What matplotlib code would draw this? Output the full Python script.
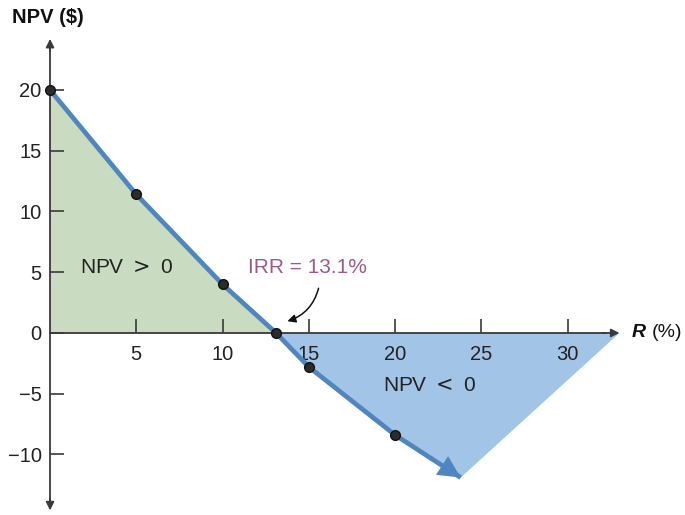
import matplotlib.pyplot as plt
from matplotlib.patches import Polygon

plt.rcParams['font.family'] = ['Liberation Sans', 'DejaVu Sans']

# NPV profile
rates = [0, 5, 10, 13.1, 15, 20]
npv = [20, 11.4, 4.0, 0, -2.8, -8.4]
curve_end = (23.8, -11.9)    # where the blue arrow stops
irr = 13.1

x_ticks = [5, 10, 15, 20, 25, 30]
y_ticks = [-10, -5, 0, 5, 10, 15, 20]
x_axis_end = 33.0
y_axis_top = 24.2
y_axis_bottom = -14.6

line_col = '#4f86bf'
green_fill = '#c9dcc2'
blue_fill = '#a2c4e6'
axis_col = '#3a3a3a'

fig = plt.figure(figsize=(6.85, 5.15), dpi=100)
ax = fig.add_axes([0, 0, 1, 1])
ax.set_xlim(-2.9, 36.8)
ax.set_ylim(-14.98, 27.4)

# shaded regions
pos = [(0, 0)] + [(r, v) for r, v in zip(rates, npv) if r <= irr]
neg = [(r, v) for r, v in zip(rates, npv) if r >= irr] + [curve_end, (x_axis_end, 0)]
ax.add_patch(Polygon(pos, closed=True, fc=green_fill, ec='none', zorder=1))
ax.add_patch(Polygon(neg, closed=True, fc=blue_fill, ec='none', zorder=1))

# axes through the origin
for side in ['top', 'right']:
    ax.spines[side].set_visible(False)
ax.spines['left'].set_position(('data', 0))
ax.spines['bottom'].set_position(('data', 0))
ax.spines['left'].set_bounds(y_axis_bottom + 0.8, y_axis_top - 0.8)
ax.spines['bottom'].set_bounds(0, x_axis_end - 0.8)
for side in ['left', 'bottom']:
    ax.spines[side].set_color(axis_col)
    ax.spines[side].set_linewidth(1.3)
    ax.spines[side].set_zorder(2)

ax.set_xticks(x_ticks)
ax.set_yticks(y_ticks)
ax.tick_params(axis='x', direction='in', length=10, width=1.2, color=axis_col,
               pad=9, labelsize=14.5, labelcolor='#222222')
ax.tick_params(axis='y', direction='in', length=10, width=1.2, color=axis_col,
               pad=6, labelsize=14.5, labelcolor='#222222')

arrow_kw = dict(arrowstyle='-|>', color=axis_col, lw=1.3, mutation_scale=12,
                shrinkA=0, shrinkB=0)
ax.annotate('', xy=(0, y_axis_top), xytext=(0, y_axis_top - 1), arrowprops=arrow_kw)
ax.annotate('', xy=(0, y_axis_bottom), xytext=(0, y_axis_bottom + 1), arrowprops=arrow_kw)
ax.annotate('', xy=(x_axis_end, 0), xytext=(x_axis_end - 1, 0), arrowprops=arrow_kw)

# NPV curve
ax.plot(rates + [curve_end[0]], npv + [curve_end[1]], color=line_col, lw=3.4,
        solid_capstyle='butt', zorder=3)
ax.annotate('', xy=curve_end, xytext=(rates[-1], npv[-1]),
            arrowprops=dict(arrowstyle='-|>', color=line_col, lw=0,
                            mutation_scale=40, shrinkA=0, shrinkB=0), zorder=3)
ax.plot(rates, npv, 'o', ms=7, mfc='#2b2b2b', mec='#111111', zorder=4)

# labels
ax.text(-2.2, 26.0, 'NPV ($)', fontsize=14.5, fontweight='bold',
        ha='left', va='center', color='#111111')
ax.text(x_axis_end + 0.7, 0, 'R', fontsize=14, fontweight='bold', style='italic',
        ha='left', va='center', color='#111111')
ax.text(x_axis_end + 1.9, 0, '(%)', fontsize=14, ha='left', va='center', color='#111111')
ax.text(4.45, 5.4, 'NPV $>$ 0', fontsize=15, ha='center', va='center', color='#222222')
ax.text(22.0, -4.3, 'NPV $<$ 0', fontsize=15, ha='center', va='center', color='#222222')
ax.text(14.9, 5.4, 'IRR = 13.1%', fontsize=15, ha='center', va='center', color='#9a5a8c')
ax.annotate('', xy=(irr + 0.5, 0.9), xytext=(15.6, 3.9),
            arrowprops=dict(arrowstyle='-|>', color='#111111', lw=1.1,
                            connectionstyle='arc3,rad=-0.3', mutation_scale=12))

fig.savefig('out.png', dpi=100)
